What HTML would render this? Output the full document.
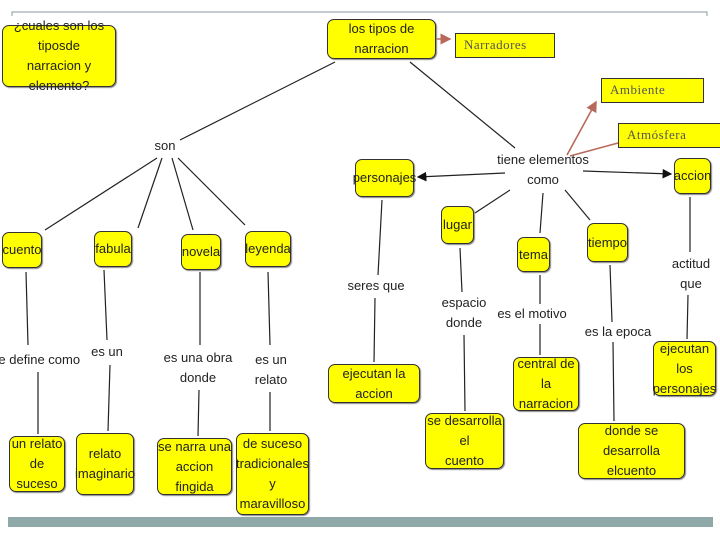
<!DOCTYPE html>
<html><head><meta charset="utf-8"><style>
body{margin:0;width:720px;height:540px;background:#fff;position:relative;overflow:hidden;font-family:"Liberation Sans Narrow","Liberation Sans",sans-serif;}
.b{position:absolute;background:#ffff00;border:1.5px solid #333;border-radius:7px;box-sizing:border-box;display:flex;align-items:center;justify-content:center;text-align:center;font-size:13px;line-height:20px;color:#222;box-shadow:1px 1px 1px #888;}
.r{position:absolute;background:#ffff00;border:1.5px solid #333;box-sizing:border-box;font-family:"Liberation Serif",serif;font-size:13px;color:#555;padding-left:8px;line-height:22px;letter-spacing:0.5px}
.l{position:absolute;font-size:13px;line-height:20px;color:#222;text-align:center;transform:translateX(-50%);white-space:nowrap;background:#fff}
svg{position:absolute;left:0;top:0}
</style></head><body>
<svg width="720" height="540">
<defs><marker id="a" markerWidth="8" markerHeight="8" refX="7" refY="4" orient="auto"><path d="M0,0L8,4L0,8z" fill="#111"/></marker>
<marker id="ra" markerWidth="7" markerHeight="7" refX="6" refY="3.5" orient="auto"><path d="M0,0L7,3.5L0,7z" fill="#b86a5a"/></marker></defs>
<path d="M12,16V12H707V16" stroke="#8a98a0" fill="none"/>
<rect x="8" y="517" width="705" height="10" fill="#8fa9a9"/>
<g stroke="#222" stroke-width="1.2">
<line x1="335" y1="62" x2="180" y2="140"/><line x1="410" y1="62" x2="515" y2="148"/>
<line x1="157" y1="158" x2="45" y2="230"/><line x1="162" y1="158" x2="138" y2="228"/>
<line x1="172" y1="158" x2="193" y2="230"/><line x1="178" y1="158" x2="245" y2="225"/>
<line x1="505" y1="173" x2="418" y2="177" marker-end="url(#a)"/>
<line x1="583" y1="171" x2="671" y2="174" marker-end="url(#a)"/>
<line x1="510" y1="190" x2="475" y2="213"/><line x1="543" y1="193" x2="540" y2="233"/><line x1="565" y1="190" x2="590" y2="220"/>
<line x1="26" y1="272" x2="28" y2="345"/><line x1="38" y1="372" x2="38" y2="434"/>
<line x1="104" y1="270" x2="107" y2="340"/><line x1="110" y1="365" x2="108" y2="431"/>
<line x1="200" y1="272" x2="200" y2="345"/><line x1="199" y1="390" x2="198" y2="436"/>
<line x1="268" y1="272" x2="270" y2="345"/><line x1="270" y1="392" x2="270" y2="431"/>
<line x1="382" y1="200" x2="378" y2="275"/><line x1="375" y1="298" x2="374" y2="362"/>
<line x1="460" y1="248" x2="462" y2="292"/><line x1="464" y1="335" x2="465" y2="411"/>
<line x1="540" y1="275" x2="540" y2="305"/><line x1="540" y1="322" x2="540" y2="355"/>
<line x1="610" y1="265" x2="612" y2="322"/><line x1="613" y1="342" x2="614" y2="421"/>
<line x1="690" y1="197" x2="690" y2="252"/><line x1="688" y1="295" x2="687" y2="339"/>
</g>
<g stroke="#b86a5a" stroke-width="1.6" fill="none">
<line x1="420" y1="39" x2="450" y2="39" marker-end="url(#ra)"/>
<line x1="567" y1="155" x2="596" y2="102" marker-end="url(#ra)"/>
<line x1="570" y1="156" x2="618" y2="143"/>
</g>
</svg>
<div class="l" style="left:165px;top:136px">son</div>
<div class="l" style="left:543px;top:150px;background:none">tiene elementos<br>como</div>
<div class="l" style="left:376px;top:276px">seres que</div>
<div class="l" style="left:464px;top:293px">espacio<br>donde</div>
<div class="l" style="left:532px;top:304px">es el motivo</div>
<div class="l" style="left:618px;top:322px">es la epoca</div>
<div class="l" style="left:691px;top:254px">actitud<br>que</div>
<div class="l" style="left:36px;top:350px">se define como</div>
<div class="l" style="left:107px;top:342px">es un</div>
<div class="l" style="left:198px;top:348px">es una obra<br>donde</div>
<div class="l" style="left:271px;top:350px">es un<br>relato</div>

<div class="b" style="left:2px;top:25px;width:114px;height:62px">¿cuales son los tiposde<br>narracion y elemento?</div>
<div class="b" style="left:327px;top:19px;width:109px;height:40px">los tipos de narracion</div>
<div class="r" style="left:455px;top:33px;width:100px;height:25px">Narradores</div>
<div class="r" style="left:601px;top:78px;width:103px;height:25px">Ambiente</div>
<div class="r" style="left:618px;top:123px;width:104px;height:25px">Atmósfera</div>
<div class="b" style="left:355px;top:159px;width:59px;height:38px">personajes</div>
<div class="b" style="left:674px;top:158px;width:37px;height:36px">accion</div>
<div class="b" style="left:2px;top:232px;width:40px;height:36px">cuento</div>
<div class="b" style="left:94px;top:231px;width:38px;height:36px">fabula</div>
<div class="b" style="left:181px;top:234px;width:40px;height:36px">novela</div>
<div class="b" style="left:245px;top:231px;width:46px;height:36px">leyenda</div>
<div class="b" style="left:441px;top:206px;width:33px;height:38px">lugar</div>
<div class="b" style="left:517px;top:237px;width:33px;height:35px">tema</div>
<div class="b" style="left:587px;top:223px;width:41px;height:39px">tiempo</div>
<div class="b" style="left:328px;top:364px;width:92px;height:39px">ejecutan la accion</div>
<div class="b" style="left:513px;top:357px;width:66px;height:54px">central de la<br>narracion</div>
<div class="b" style="left:653px;top:341px;width:63px;height:55px">ejecutan los<br>personajes</div>
<div class="b" style="left:425px;top:413px;width:79px;height:56px">se desarrolla el<br>cuento</div>
<div class="b" style="left:578px;top:423px;width:107px;height:56px">donde se desarrolla<br>elcuento</div>
<div class="b" style="left:9px;top:436px;width:56px;height:56px">un relato<br>de suceso</div>
<div class="b" style="left:76px;top:433px;width:58px;height:62px">relato<br>imaginario</div>
<div class="b" style="left:157px;top:438px;width:75px;height:57px">se narra una<br>accion fingida</div>
<div class="b" style="left:236px;top:433px;width:73px;height:82px">de suceso<br>tradicionales<br>y maravilloso</div>
</body></html>
